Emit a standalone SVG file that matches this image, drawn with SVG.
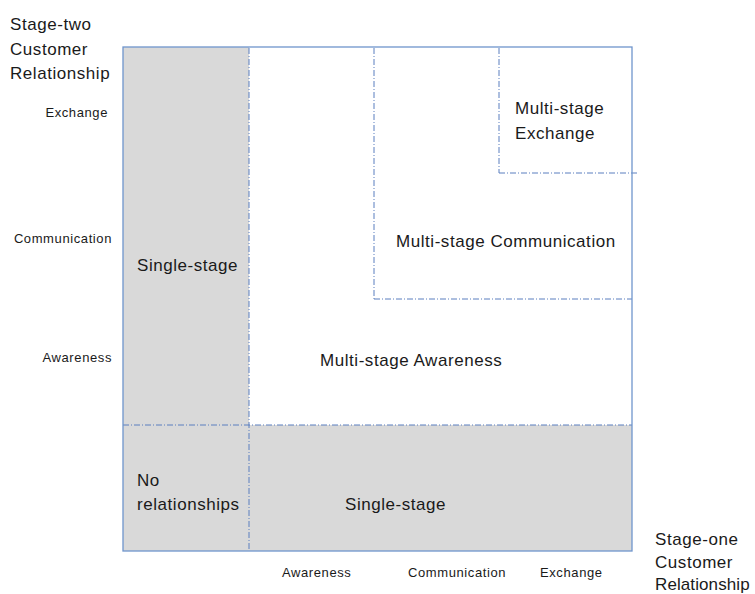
<svg xmlns="http://www.w3.org/2000/svg" width="755" height="594" viewBox="0 0 755 594">
<style>
text{font-family:"Liberation Sans",Arial,sans-serif;fill:#1a1a1a}
.big{font-size:17px;letter-spacing:0.55px}
.small{font-size:13px;letter-spacing:0.6px}
.gray{fill:#d9d9d9;stroke:none}
.dd{fill:none;stroke:#5b7fbf;stroke-width:1;stroke-dasharray:6,2,1,2}
.border{fill:none;stroke:#6f95cc;stroke-width:1.3}
</style>
<rect width="755" height="594" fill="#fff"/>
<g id="single-stage-left"><rect class="gray" x="123" y="47" width="126" height="378"/><text class="big" x="137" y="271">Single-stage</text></g>
<g id="no-relationships"><rect class="gray" x="123" y="425" width="126" height="126"/><text class="big" x="137" y="486">No</text><text class="big" x="137" y="510">relationships</text></g>
<g id="single-stage-bottom"><rect class="gray" x="249" y="425" width="383" height="126"/><text class="big" x="345" y="510">Single-stage</text></g>
<g id="multi-awareness"><text class="big" x="320" y="366">Multi-stage Awareness</text></g>
<g id="multi-communication"><text class="big" x="396" y="247">Multi-stage Communication</text></g>
<g id="multi-exchange"><text class="big" x="515" y="114">Multi-stage</text><text class="big" x="515" y="139">Exchange</text></g>
<g id="connectors">
<line class="dd" x1="249" y1="48" x2="249" y2="551"/>
<line class="dd" x1="123" y1="425" x2="632" y2="425"/>
<line class="dd" x1="374" y1="48" x2="374" y2="299"/>
<line class="dd" x1="374" y1="299" x2="632" y2="299"/>
<line class="dd" x1="499" y1="48" x2="499" y2="173"/>
<line class="dd" x1="499" y1="173" x2="638" y2="173"/>
<rect class="border" x="123" y="47" width="509" height="504"/>
</g>
<g id="y-axis"><text class="big" x="10" y="30">Stage-two</text><text class="big" x="10" y="55">Customer</text><text class="big" x="10" y="79">Relationship</text>
<text class="small" x="108" y="117" text-anchor="end">Exchange</text>
<text class="small" x="112" y="243" text-anchor="end">Communication</text>
<text class="small" x="112" y="362" text-anchor="end">Awareness</text></g>
<g id="x-axis"><text class="small" x="282" y="577">Awareness</text><text class="small" x="408" y="577">Communication</text><text class="small" x="540" y="577">Exchange</text>
<text class="big" x="655" y="545">Stage-one</text><text class="big" x="655" y="568">Customer</text><text class="big" x="655" y="590" style="letter-spacing:0.1px">Relationship</text></g>
</svg>
